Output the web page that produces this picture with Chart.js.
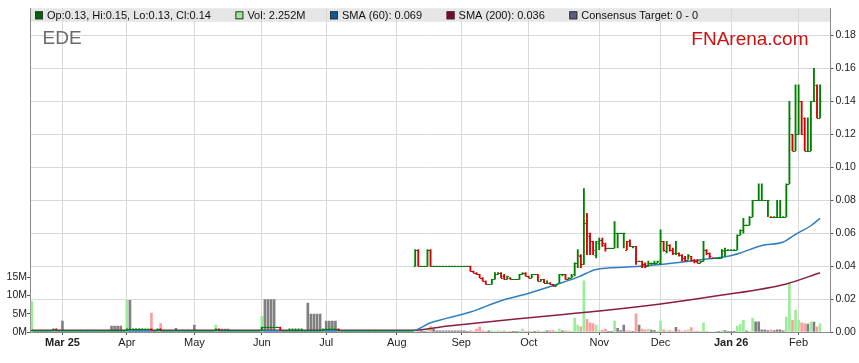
<!DOCTYPE html>
<html><head><meta charset="utf-8">
<style>html,body{margin:0;padding:0;background:#fff;}canvas{display:block;}</style>
<script src="https://cdn.jsdelivr.net/npm/chart.js@4.4.1/dist/chart.umd.min.js"></script>
</head><body>
<canvas id="c" width="859" height="363"></canvas>
<script>
// ---- data (trading-day index 0 = 17 Feb 2025, weekdays only) ----
const ticker = 'EDE';
const monthTickIdx = [10,31,53,75,96,119,140,162,185,205,228,250];
const monthLabels = ['Mar 25','Apr','May','Jun','Jul','Aug','Sep','Oct','Nov','Dec','Jan 26','Feb'];
const boldLabels = ['Mar 25','Jan 26'];
const priceTicks = [0,0.02,0.04,0.06,0.08,0.10,0.12,0.14,0.16,0.18];
const volTicks = [0,5,10,15]; // millions
const consensusTarget = [0,0];

const open = [
.001,.001,.001,.001,.001,.001,.001,.001,.002,.001,
.001,.001,.001,.001,.001,.001,.001,.001,.001,.001,
.001,.001,.001,.001,.001,.001,.001,.001,.001,.001,
.001,.001,.002,.002,.002,.002,.002,.002,.002,.002,
.001,.001,.002,.001,.001,.001,.001,.001,.001,.001,
.001,.001,.001,.001,.001,.001,.001,.001,.001,.001,
.001,.002,.001,.001,.001,.001,.001,.001,.001,.001,
.001,.001,.001,.001,.001,.001,.003,.003,.003,.003,
.003,.003,.001,.001,.001,.001,.001,.001,.001,.001,
.001,.001,.001,.001,.001,.001,.002,.002,.002,.002,
.002,.001,.001,.001,.001,.001,.001,.001,.001,.001,
.001,.001,.001,.001,.001,.001,.001,.001,.001,.001,
.001,.001,.001,.001,.001,.040,.050,.040,.040,.040,
.050,.040,.040,.040,.040,.040,.040,.040,.040,.040,
.040,.040,.040,.040,.037,.036,.035,.033,.031,.029,
.029,.032,.035,.036,.034,.032,.033,.032,.032,.032,
.035,.036,.034,.033,.035,.035,.031,.032,.030,.030,
.029,.028,.030,.035,.035,.032,.033,.035,.042,.046,
.041,.066,.058,.055,.047,.054,.056,.053,.051,.051,
.051,.060,.060,.060,.050,.055,.052,.052,.043,.043,
.041,.040,.042,.042,.042,.042,.055,.049,.053,.050,
.048,.048,.047,.045,.044,.046,.044,.043,.042,.043,
.050,.048,.045,.045,.045,.045,.049,.050,.050,.050,
.050,.059,.062,.065,.065,.070,.080,.080,.080,.080,
.080,.070,.070,.070,.070,.070,.070,.090,.120,.110,
.120,.140,.130,.110,.110,.140,.150,.130];
const high = [
.001,.001,.001,.001,.001,.001,.001,.002,.002,.001,
.001,.001,.001,.001,.001,.001,.001,.001,.001,.001,
.001,.001,.001,.001,.001,.001,.001,.001,.001,.001,
.001,.002,.002,.002,.002,.002,.002,.002,.002,.002,
.001,.002,.002,.001,.001,.001,.001,.001,.001,.001,
.001,.001,.001,.001,.001,.001,.001,.001,.001,.001,
.002,.002,.001,.001,.001,.001,.001,.001,.001,.001,
.001,.001,.001,.001,.001,.003,.003,.003,.003,.003,
.003,.003,.001,.001,.002,.002,.002,.002,.002,.001,
.001,.001,.001,.001,.001,.002,.002,.002,.002,.002,
.002,.001,.001,.001,.001,.001,.001,.001,.001,.001,
.001,.001,.001,.001,.001,.001,.001,.001,.001,.001,
.001,.001,.001,.001,.001,.050,.050,.040,.040,.050,
.050,.040,.040,.040,.040,.040,.040,.040,.040,.040,
.040,.040,.040,.040,.037,.036,.035,.033,.031,.029,
.032,.036,.036,.036,.035,.034,.033,.032,.032,.035,
.036,.036,.034,.035,.035,.035,.032,.032,.031,.030,
.029,.029,.035,.035,.035,.033,.035,.042,.050,.047,
.087,.072,.060,.055,.055,.057,.057,.054,.051,.051,
.067,.060,.060,.060,.055,.056,.052,.052,.043,.043,
.042,.043,.042,.043,.043,.062,.055,.055,.053,.051,
.055,.048,.047,.046,.047,.046,.044,.044,.043,.055,
.050,.048,.045,.045,.045,.050,.051,.050,.050,.050,
.059,.062,.069,.065,.070,.080,.080,.090,.090,.080,
.080,.070,.070,.080,.080,.070,.090,.140,.120,.150,
.150,.140,.130,.130,.140,.160,.150,.150];
const low = [
.001,.001,.001,.001,.001,.001,.001,.001,.001,.001,
.001,.001,.001,.001,.001,.001,.001,.001,.001,.001,
.001,.001,.001,.001,.001,.001,.001,.001,.001,.001,
.001,.001,.002,.002,.002,.002,.002,.002,.002,.001,
.001,.001,.001,.001,.001,.001,.001,.001,.001,.001,
.001,.001,.001,.001,.001,.001,.001,.001,.001,.001,
.001,.001,.001,.001,.001,.001,.001,.001,.001,.001,
.001,.001,.001,.001,.001,.001,.003,.003,.003,.003,
.003,.001,.001,.001,.001,.001,.001,.001,.001,.001,
.001,.001,.001,.001,.001,.001,.002,.002,.002,.002,
.001,.001,.001,.001,.001,.001,.001,.001,.001,.001,
.001,.001,.001,.001,.001,.001,.001,.001,.001,.001,
.001,.001,.001,.001,.001,.040,.040,.040,.040,.040,
.040,.040,.040,.040,.040,.040,.040,.040,.040,.040,
.040,.040,.040,.037,.036,.035,.033,.031,.029,.029,
.029,.032,.035,.033,.032,.032,.032,.032,.032,.032,
.035,.034,.033,.033,.035,.031,.031,.030,.030,.029,
.028,.028,.030,.034,.032,.032,.033,.034,.039,.039,
.041,.047,.047,.047,.045,.050,.052,.049,.051,.051,
.051,.051,.060,.051,.050,.052,.051,.041,.043,.039,
.039,.040,.041,.041,.042,.041,.049,.048,.049,.047,
.047,.046,.043,.043,.044,.043,.042,.042,.042,.043,
.047,.045,.045,.045,.045,.045,.046,.050,.050,.050,
.050,.059,.060,.065,.065,.070,.080,.080,.080,.080,
.070,.070,.070,.070,.070,.070,.070,.090,.110,.110,
.120,.120,.110,.110,.110,.140,.130,.130];
const close = [
.001,.001,.001,.001,.001,.001,.001,.002,.001,.001,
.001,.001,.001,.001,.001,.001,.001,.001,.001,.001,
.001,.001,.001,.001,.001,.001,.001,.001,.001,.001,
.001,.002,.002,.002,.002,.002,.002,.002,.002,.001,
.001,.002,.001,.001,.001,.001,.001,.001,.001,.001,
.001,.001,.001,.001,.001,.001,.001,.001,.001,.001,
.002,.001,.001,.001,.001,.001,.001,.001,.001,.001,
.001,.001,.001,.001,.001,.003,.003,.003,.003,.003,
.003,.001,.001,.001,.001,.001,.001,.001,.001,.001,
.001,.001,.001,.001,.001,.002,.002,.002,.002,.002,
.001,.001,.001,.001,.001,.001,.001,.001,.001,.001,
.001,.001,.001,.001,.001,.001,.001,.001,.001,.001,
.001,.001,.001,.001,.001,.050,.040,.040,.040,.050,
.040,.040,.040,.040,.040,.040,.040,.040,.040,.040,
.040,.040,.040,.037,.036,.035,.033,.031,.029,.029,
.032,.035,.036,.033,.032,.034,.032,.032,.032,.035,
.036,.034,.033,.035,.035,.031,.032,.030,.030,.029,
.028,.029,.035,.035,.032,.033,.034,.042,.047,.041,
.066,.060,.055,.050,.055,.056,.054,.051,.051,.051,
.060,.060,.060,.060,.055,.052,.052,.043,.043,.041,
.040,.042,.042,.042,.043,.055,.050,.053,.050,.048,
.048,.047,.045,.044,.047,.044,.043,.042,.043,.050,
.048,.046,.045,.045,.045,.050,.050,.050,.050,.050,
.059,.062,.065,.065,.070,.080,.080,.080,.080,.080,
.080,.070,.070,.070,.070,.070,.090,.130,.110,.120,
.140,.120,.110,.110,.140,.140,.130,.140];
const volume = [ // millions
8.4,0.3,0.3,0.3,0.3,0.1,0.2,0.2,0.4,0.2,
3.0,0.1,0.1,0.1,0.1,0.3,0.1,0.1,0.1,0.1,
0.1,0.3,0.1,0.1,0.1,0.1,1.6,1.6,1.6,1.6,
0.3,8.7,8.7,0.2,0.8,0.8,0.8,0.3,0.2,5.2,
0.2,0.2,2.3,0.2,0.1,0.1,0.2,1.0,0.3,0.5,
0.3,0.5,0.2,1.9,0.1,0.2,0.1,0.1,0.2,0.1,
1.9,0.8,0.8,0.8,0.8,0.2,0.3,0.3,0.3,0.3,
0.1,0.1,0.1,0.1,0.1,4.3,8.9,8.9,8.9,8.9,
0.3,0.5,0.1,0.1,0.4,0.4,0.4,0.4,0.4,0.2,
7.9,4.9,4.9,4.9,4.9,0.2,3.0,3.0,3.0,3.0,
0.3,0.1,0.1,0.1,0.1,0.1,0.1,0.1,0.1,0.1,
0.1,0.1,0.1,0.1,0.1,0.1,0.1,0.1,0.1,0.1,
0.1,0.1,0.1,0.1,0.1,0.7,0.5,0.3,0.2,0.7,
1.5,0.7,0.3,0.3,0.3,0.3,0.3,0.3,0.3,0.3,
0.3,0.3,0.2,0.4,0.1,0.8,1.4,0.3,0.2,0.3,
0.3,0.2,0.4,0.2,0.3,0.2,0.1,0.1,0.1,0.2,
0.8,0.1,0.2,0.2,0.2,0.3,0.1,0.2,0.3,0.4,
0.4,0.2,0.8,0.3,0.3,0.3,0.2,3.8,1.9,1.4,
14.0,3.5,2.5,2.3,1.9,0.3,0.5,0.8,0.2,0.1,
3.0,1.0,0.4,1.9,0.3,0.3,0.2,5.0,1.9,0.8,
0.6,0.8,0.5,0.4,0.2,3.0,0.6,0.3,0.4,0.1,
1.3,0.6,0.2,0.4,0.6,1.2,0.2,0.2,0.2,2.5,
0.2,0,0,0,0.2,0.4,0.4,0.1,0.2,0.2,
1.6,2.1,3.2,0.3,0.1,3.8,2.8,2.8,0.6,0.6,
0.4,0.6,0.4,0.6,0.6,0.3,4.1,13.6,3.2,6.0,
3.2,2.5,2.3,2.2,2.7,2.7,1.4,2.252];

const sma60Idx = [0,124,130,143,153,162,173,178,184,194,205,216,227,231,238,245,249,254,257];
const sma60    = [0.0008,0.0008,0.0056,0.0121,0.019,0.0235,0.030,0.0333,0.038,0.0394,0.041,0.0434,0.046,0.048,0.0525,0.0546,0.0593,0.0645,0.069];
const sma200Idx = [0,124,135,157,178,185,205,224,246,257];
const sma200    = [0.001,0.001,0.0035,0.0078,0.0115,0.0127,0.017,0.0221,0.0292,0.036];

// ---- styling ----
const FONT = 'Liberation Sans, Arial, sans-serif';
const UP = '#008000', DOWN = '#d40000';
const VUP = '#98ee98', VDOWN = '#ff9c9c', VFLAT = '#808080';
const n = close.length;
function dir(i){ if(i===0) return 1; return close[i]>close[i-1]?1:(close[i]<close[i-1]?-1:0); }
const barColor = close.map((c,i)=> dir(i)<0?DOWN:UP);
const volColor = close.map((c,i)=> {const d=dir(i); return d>0?VUP:(d<0?VDOWN:VFLAT);});

const legendItems = [
  {color:'#006400', text:`Op:${open[n-1].toFixed(2)}, Hi:${high[n-1].toFixed(2)}, Lo:${low[n-1].toFixed(2)}, Cl:${close[n-1].toFixed(2)}`},
  {color:'#98ee98', text:`Vol: ${volume[n-1].toFixed(3)}M`},
  {color:'#0a5c9c', text:`SMA (60): ${sma60[sma60.length-1].toFixed(3)}`},
  {color:'#7a0a2a', text:`SMA (200): ${sma200[sma200.length-1].toFixed(3)}`},
  {color:'#5c5c8c', text:`Consensus Target: ${consensusTarget[0]} - ${consensusTarget[1]}`}
];

const overlay = {
  id:'overlay',
  beforeDraw(chart){
    const {ctx, chartArea:a} = chart;
    ctx.save(); ctx.fillStyle='#e6e6e6';
    ctx.fillRect(a.left, a.top, a.right-a.left, 13.5);
    ctx.restore();
  },
  beforeDatasetsDraw(chart){
    const {ctx, chartArea:a} = chart;
    ctx.save();
    ctx.textBaseline='alphabetic';
    ctx.fillStyle='#6a6a6a'; ctx.font='19px '+FONT; ctx.textAlign='left';
    ctx.fillText(ticker, a.left+12, a.top+36);
    ctx.fillStyle='#cc1111'; ctx.font='19px '+FONT; ctx.textAlign='right';
    ctx.fillText('FNArena.com', a.right-22, a.top+37);
    ctx.restore();
  },
  afterDatasetsDraw(chart){
    const {ctx, chartArea:a} = chart;
    const xs = chart.scales.x, ys = chart.scales.y;
    const half = (xs.getPixelForValue(1)-xs.getPixelForValue(0))/2;
    ctx.save();
    ctx.beginPath(); ctx.rect(a.left,a.top,a.right-a.left,a.bottom-a.top); ctx.clip();
    ctx.lineWidth = 1.1;
    for(let i=0;i<n;i++){
      const px = xs.getPixelForValue(i);
      const yo = Math.round(ys.getPixelForValue(open[i]))+0.5;
      const yc = Math.round(ys.getPixelForValue(close[i]))+0.5;
      ctx.strokeStyle = barColor[i];
      ctx.beginPath();
      ctx.moveTo(px-half-0.1, yo); ctx.lineTo(px, yo);
      ctx.moveTo(px, yc); ctx.lineTo(px+half+0.1, yc);
      ctx.stroke();
    }
    ctx.restore();
  },
  afterDraw(chart){
    const {ctx, chartArea:a} = chart;
    ctx.save();
    ctx.font='11px '+FONT; ctx.textBaseline='middle'; ctx.textAlign='left';
    let x = a.left+4.5; const y = a.top+7;
    legendItems.forEach(it=>{
      ctx.fillStyle=it.color; ctx.fillRect(x, y-4, 8, 8);
      ctx.strokeStyle='#333'; ctx.lineWidth=1; ctx.strokeRect(x+0.5, y-3.5, 7, 7);
      ctx.fillStyle='#111'; ctx.fillText(it.text, x+12, y+0.5);
      x += 12 + ctx.measureText(it.text).width + 24.5;
    });
    ctx.restore();
  }
};

const chart = new Chart(document.getElementById('c'), {
  type:'bar',
  data:{
    datasets:[
      { type:'bar', label:'OHLC', yAxisID:'y', order:1, grouped:false,
        data: close.map((c,i)=>({x:i, y:[low[i], high[i]]})),
        backgroundColor: barColor, borderWidth:0, barThickness:1.2 },
      { type:'line', label:'SMA (60)', yAxisID:'y', order:2,
        data: sma60Idx.map((d,k)=>({x:d, y:sma60[k]})),
        borderColor:'#2f7fc0', borderWidth:1.5, pointRadius:0, cubicInterpolationMode:'monotone', fill:false },
      { type:'line', label:'SMA (200)', yAxisID:'y', order:3,
        data: sma200Idx.map((d,k)=>({x:d, y:sma200[k]})),
        borderColor:'#8c1c46', borderWidth:1.5, pointRadius:0, cubicInterpolationMode:'monotone', fill:false },
      { type:'bar', label:'Vol', yAxisID:'yVol', order:4, grouped:false,
        data: volume.map((v,i)=>({x:i, y:v})),
        backgroundColor: volColor, borderWidth:0, barThickness:2 }
    ]
  },
  options:{
    responsive:false, animation:false, devicePixelRatio:1,
    layout:{padding:{top:3, left:0, right:0, bottom:0}},
    plugins:{legend:{display:false}, tooltip:{enabled:false}},
    scales:{
      x:{ type:'linear', min:-0.42, max:260.4, offset:false,
        afterBuildTicks: s => { s.ticks = monthTickIdx.map(v=>({value:v})); },
        afterFit: s => { s.height = 31; },
        ticks:{ autoSkip:false, maxRotation:0, padding:1, color:'#222',
          callback: v => monthLabels[monthTickIdx.indexOf(v)],
          font: c => ({family:FONT, size:11, weight: (c.tick && boldLabels.includes(c.tick.label)) ? 'bold' : 'normal'}) },
        grid:{ offset:false, color:'#d9d9d9', tickLength:3, tickColor:'#555' },
        border:{ color:'#8a8a8a' } },
      y:{ type:'linear', position:'right', min:0, max:0.1965,
        afterBuildTicks: s => { s.ticks = priceTicks.map(v=>({value:v})); },
        afterFit: s => { s.width = 28.5; },
        ticks:{ padding:2, color:'#222', font:{family:FONT, size:10.5}, callback: v => v.toFixed(2) },
        grid:{ color:'#d9d9d9', tickLength:3, tickColor:'#555' },
        border:{ color:'#8a8a8a' } },
      yVol:{ type:'linear', position:'left', min:0, max:88.6,
        afterBuildTicks: s => { s.ticks = volTicks.map(v=>({value:v})); },
        afterFit: s => { s.width = 30.5; },
        ticks:{ padding:0, color:'#222', font:{family:FONT, size:10.5}, callback: v => v+'M' },
        grid:{ drawOnChartArea:false, tickLength:3.5, tickColor:'#555' },
        border:{ color:'#8a8a8a' } }
    }
  },
  plugins:[overlay]
});
</script>
</body></html>
